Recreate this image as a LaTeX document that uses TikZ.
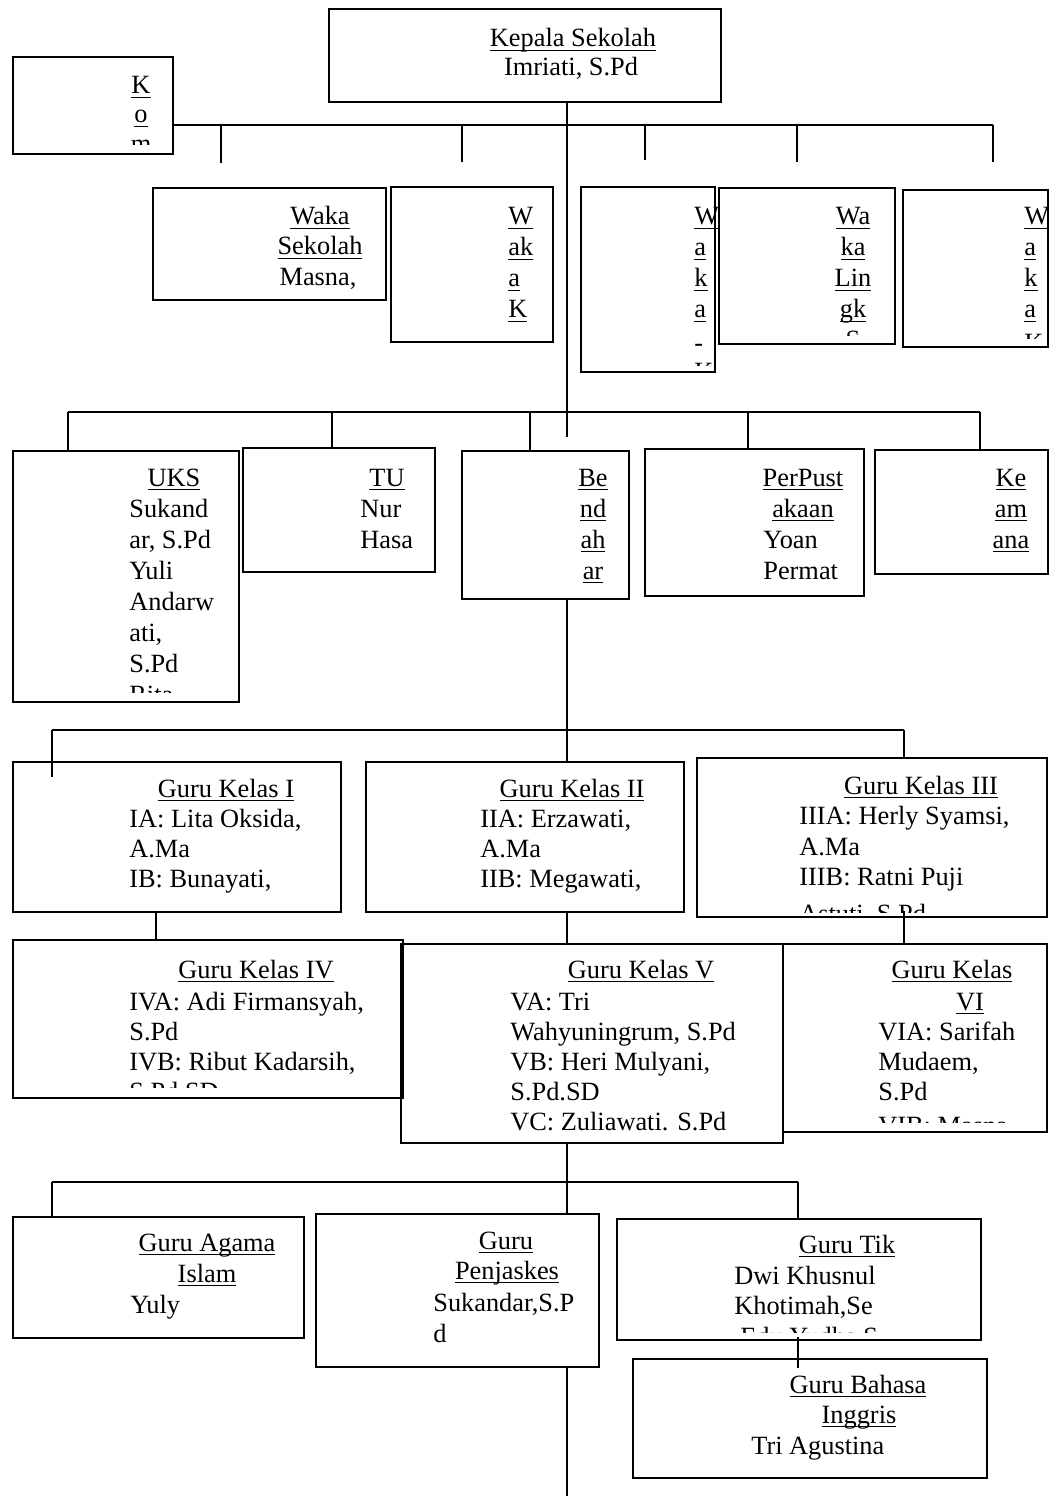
\documentclass[tikz,border=0pt]{standalone}
\usepackage{fontspec}
\setmainfont{Liberation Serif}
\usetikzlibrary{fit}

\newsavebox\undlbox
\newcommand{\undl}[1]{\sbox\undlbox{#1}\rlap{\vrule width\wd\undlbox height -1.8pt depth 2.5pt}\usebox\undlbox}

\tikzset{
  box/.style={draw, line width=0.9pt, inner sep=0pt},
  hd/.style={anchor=base, inner sep=0pt},
  nm/.style={anchor=base west, inner sep=0pt},
  link/.style={line width=0.9pt}
}

\begin{document}
\begin{tikzpicture}[x=0.02cm, y=-0.02cm, font=\fontsize{15}{18}\selectfont]
\useasboundingbox (0,0) rectangle (1049,1496);

% boxes
\node[box, fit={(329,9) (721,102)}] (kepsek) {};
\node[box, fit={(13,57) (173,154)}] (ko) {};
\node[box, fit={(153,188) (386,300)}] (wsek) {};
\node[box, fit={(391,187) (553,342)}] (wk1) {};
\node[box, fit={(581,187) (715,372)}] (wk2) {};
\node[box, fit={(719,188) (895,344)}] (wling) {};
\node[box, fit={(903,190) (1048,347)}] (wk3) {};
\node[box, fit={(13,451) (239,702)}] (uks) {};
\node[box, fit={(243,448) (435,572)}] (tu) {};
\node[box, fit={(462,451) (629,599)}] (bend) {};
\node[box, fit={(645,449) (864,596)}] (pus) {};
\node[box, fit={(875,450) (1048,574)}] (aman) {};
\node[box, fit={(13,762) (341,912)}] (gk1) {};
\node[box, fit={(366,762) (684,912)}] (gk2) {};
\node[box, fit={(697,758) (1047,917)}] (gk3) {};
\node[box, fit={(13,940) (403,1098)}] (gk4) {};
\node[box, fit={(401,944) (783,1143)}] (gk5) {};
\node[box, fit={(783,944) (1047,1132)}] (gk6) {};
\node[box, fit={(13,1217) (304,1338)}] (agama) {};
\node[box, fit={(316,1214) (599,1367)}] (penj) {};
\node[box, fit={(617,1219) (981,1340)}] (tik) {};
\node[box, fit={(633,1359) (987,1478)}] (ing) {};

% bus under Kepala Sekolah
\coordinate (bus1) at (567,125);
\coordinate (stem1) at (567,437);
\draw[link] (kepsek.south -| bus1) -- (stem1);
\foreach \x/\y [count=\i] in {221/163,462/162,645/160,797/162,993/162} {
  \coordinate (t\i) at (\x,\y);
  \draw[link] (t\i |- bus1) -- (t\i);
}
\draw[line width=1.2pt] (ko.east |- bus1) -- (t5 |- bus1);

% bus over UKS row
\foreach \x/\b [count=\i] in {68/uks,332/tu,530/bend,748/pus,980/aman} {
  \coordinate (s\i) at (\x,412);
  \draw[link] (s\i) -- (s\i |- \b.north);
}
\draw[line width=1.2pt] (s1) -- (s5);

% bus over Guru Kelas I-III
\coordinate (bus3) at (567,730);
\coordinate (r1) at (52,730);
\coordinate (r1e) at (52,777);
\coordinate (r2) at (904,730);
\draw[link] (bend.south -| bus3) -- (gk2.north -| bus3);
\draw[line width=1.2pt] (r1) -- (r2);
\draw[link] (r1) -- (r1e);
\draw[link] (r2) -- (r2 |- gk3.north);

% Guru Kelas I-III to IV-VI
\coordinate (c4) at (156,926);
\coordinate (c5) at (567,926);
\coordinate (c6) at (904,926);
\draw[link] (gk1.south -| c4) -- (gk4.north -| c4);
\draw[link] (gk2.south -| c5) -- (gk5.north -| c5);
\draw[link] ([yshift=4pt]gk3.south -| c6) -- (gk6.north -| c6);

% bus over bottom row
\coordinate (bus4) at (567,1182);
\coordinate (q1) at (52,1182);
\coordinate (q2) at (798,1182);
\coordinate (q3) at (798,1368);
\coordinate (tail) at (567,1496);
\draw[link] (gk5.south -| bus4) -- (penj.north -| bus4);
\draw[line width=1.2pt] (q1) -- (q2);
\draw[link] (q1) -- (q1 |- agama.north);
\draw[link] (q2) -- (q2 |- tik.north);
\draw[link] ([yshift=2pt]tik.south -| q3) -- (q3);
\draw[link] (penj.south -| tail) -- (tail);

% Kepala Sekolah
\node[hd] (kepsek-h) at (573,47) {\undl{Kepala Sekolah}};
\node[hd] (kepsek-n) at (571,76) {Imriati, S.Pd};

% wakil kepala
\begin{scope}
\clip (13,57) rectangle (173,145);
\foreach \t/\y [count=\i] in {K/94,o/123,m/153}
  \node[hd] (ko-\i) at (141,\y) {\undl{\t}};
\end{scope}
\foreach \t/\y [count=\i] in {Waka/225,Sekolah/255}
  \node[hd] (wsek-\i) at (320,\y) {\undl{\t}};
\node[hd] (wsek-n) at (318,286) {Masna,};
\foreach \t [count=\i] in {W,ak,a,K}
  \node[nm] (wk1-\i) at (508,{194+31*\i}) {\undl{\t}};
\begin{scope}
\clip (581,187) rectangle (730,366);
\foreach \t [count=\i] in {W,a,k,a}
  \node[nm] (wk2-\i) at (694,{194+31*\i}) {\undl{\t}};
\node[nm] (wk2-5) at (694,352) {-};
\node[nm] (wk2-6) at (694,380) {\undl{K}};
\end{scope}
\begin{scope}
\clip (719,188) rectangle (895,336);
\foreach \t [count=\i] in {Wa,ka,Lin,gk}
  \node[hd] (wling-\i) at (853,{194+31*\i}) {\undl{\t}};
\node[hd] (wling-5) at (853,349) {\undl{S}};
\end{scope}
\begin{scope}
\clip (903,190) rectangle (1049,339);
\foreach \t [count=\i] in {W,a,k,a}
  \node[nm] (wk3-\i) at (1024,{194+31*\i}) {\undl{\t}};
\node[nm] (wk3-5) at (1024,352) {\undl{K}};
\end{scope}

% UKS, TU, Bendahara, Perpustakaan, Keamanan
\node[hd] (uks-h) at (174,486) {\undl{UKS}};
\begin{scope}
\clip (13,451) rectangle (239,692);
\foreach \t [count=\i] in {Sukand,{ar, S.Pd},Yuli,Andarw,{ati,},S.Pd,Rita}
  \node[nm] (uks-\i) at (129,{486+31*\i}) {\t};
\end{scope}
\node[hd] (tu-h) at (387,486) {\undl{TU}};
\node[nm] (tu-1) at (360,517) {Nur};
\node[nm] (tu-2) at (360,548) {Hasa};
\foreach \t [count=\i from 0] in {Be,nd,ah,ar}
  \node[hd] (bend-\i) at (593,{486+31*\i}) {\undl{\t}};
\node[hd] (pus-h1) at (803,486) {\undl{PerPust}};
\node[hd] (pus-h2) at (803,517) {\undl{akaan}};
\node[nm] (pus-1) at (763,548) {Yoan};
\node[nm] (pus-2) at (763,579) {Permat};
\foreach \t [count=\i from 0] in {Ke,am,ana}
  \node[hd] (aman-\i) at (1011,{486+31*\i}) {\undl{\t}};

% Guru Kelas I - III
\node[hd] (gk1-h) at (226,797) {\undl{Guru Kelas I}};
\foreach \t/\y [count=\i] in {{IA: Lita Oksida,}/827,A.Ma/857,{IB: Bunayati,}/887}
  \node[nm] (gk1-\i) at (129,\y) {\t};
\node[hd] (gk2-h) at (572,797) {\undl{Guru Kelas II}};
\foreach \t/\y [count=\i] in {{IIA: Erzawati,}/827,A.Ma/857,{IIB: Megawati,}/887}
  \node[nm] (gk2-\i) at (480,\y) {\t};
\node[hd] (gk3-h) at (921,794) {\undl{Guru Kelas III}};
\begin{scope}
\clip (697,758) rectangle (1047,912);
\foreach \t/\y [count=\i] in {{IIIA: Herly Syamsi,}/824,A.Ma/855,{IIIB: Ratni Puji}/885,{Astuti, S.Pd}/922}
  \node[nm] (gk3-\i) at (799,\y) {\t};
\end{scope}

% Guru Kelas IV - VI
\node[hd] (gk4-h) at (256,978) {\undl{Guru Kelas IV}};
\begin{scope}
\clip (13,940) rectangle (403,1087);
\foreach \t/\y [count=\i] in {{IVA: Adi Firmansyah,}/1010,S.Pd/1040,{IVB: Ribut Kadarsih,}/1070,S.Pd.SD/1100}
  \node[nm] (gk4-\i) at (129,\y) {\t};
\end{scope}
\node[hd] (gk5-h) at (641,978) {\undl{Guru Kelas V}};
\foreach \t/\y [count=\i] in {{VA: Tri}/1010,{Wahyuningrum, S.Pd}/1040,{VB: Heri Mulyani,}/1070,S.Pd.SD/1100,{VC: Zuliawati. S.Pd}/1130}
  \node[nm] (gk5-\i) at (510,\y) {\t};
\node[hd] (gk6-h1) at (952,978) {\undl{Guru Kelas}};
\node[hd] (gk6-h2) at (970,1010) {\undl{VI}};
\begin{scope}
\clip (783,944) rectangle (1047,1122);
\foreach \t/\y [count=\i] in {{VIA: Sarifah}/1040,{Mudaem,}/1070,S.Pd/1100,{VIB: Masna}/1134}
  \node[nm] (gk6-\i) at (878,\y) {\t};
\end{scope}

% guru mata pelajaran
\node[hd] (agama-h1) at (207,1251) {\undl{Guru Agama}};
\node[hd] (agama-h2) at (207,1282) {\undl{Islam}};
\node[nm] (agama-1) at (130,1313) {Yuly};
\node[hd] (penj-h1) at (506,1249) {\undl{Guru}};
\node[hd] (penj-h2) at (507,1279) {\undl{Penjaskes}};
\node[nm] (penj-1) at (433,1311) {Sukandar,S.P};
\node[nm] (penj-2) at (433,1342) {d};
\node[hd] (tik-h) at (847,1253) {\undl{Guru Tik}};
\node[nm] (tik-1) at (734,1284) {Dwi Khusnul};
\node[nm] (tik-2) at (734,1314) {Khotimah,Se};
\begin{scope}
\clip (617,1219) rectangle (981,1332);
\node[nm] (tik-3) at (740,1345) {Edy Yudha S};
\end{scope}
\node[hd] (ing-h1) at (858,1393) {\undl{Guru Bahasa}};
\node[hd] (ing-h2) at (859,1423) {\undl{Inggris}};
\node[nm] (ing-1) at (751,1454) {Tri Agustina};
\end{tikzpicture}
\end{document}
